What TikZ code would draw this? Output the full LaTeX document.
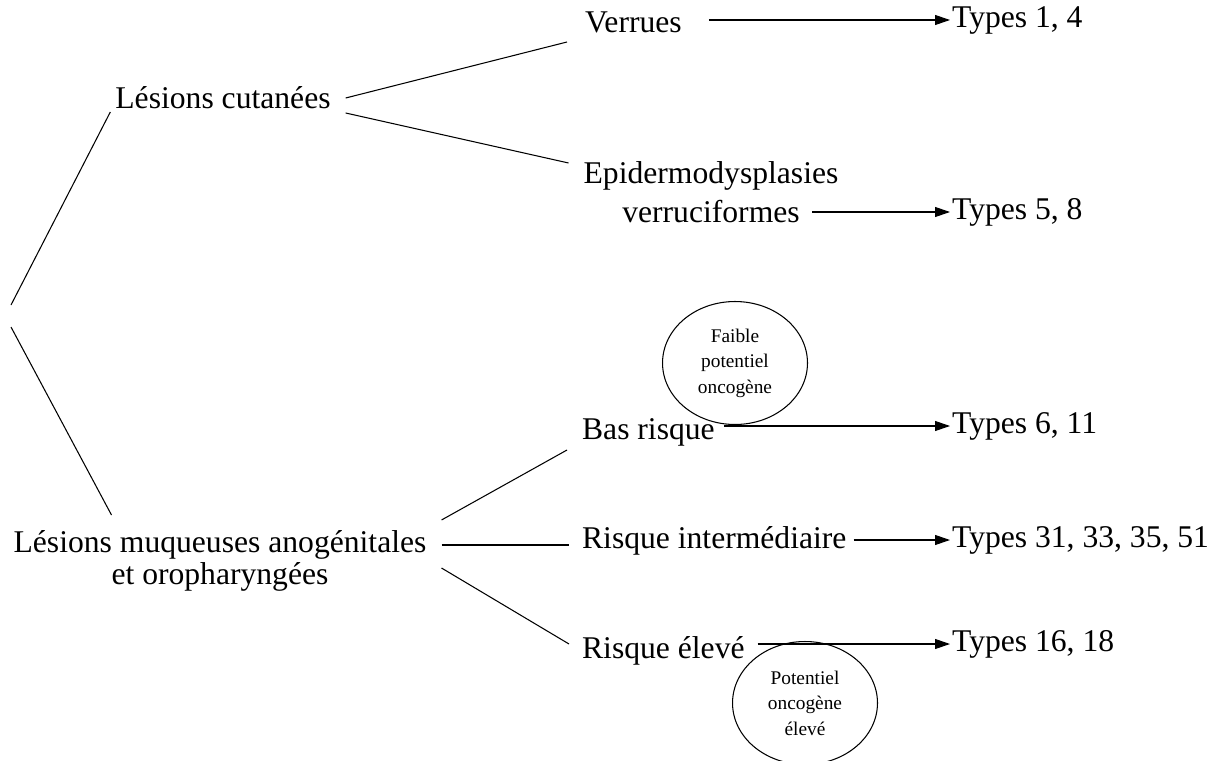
\documentclass[tikz,border=0pt]{standalone}
\usepackage{fontspec}
\setmainfont{Liberation Serif}
\usetikzlibrary{positioning,arrows.meta,calc,shapes.geometric}

\begin{document}
\begin{tikzpicture}[
    x=0.02cm, y=-0.02cm,
    >={Triangle[length=3mm, width=2mm]},
    link/.style={line width=0.6pt},
    arrow/.style={link, ->},
    lesion/.style={font=\fontsize{18}{18}\selectfont, align=center, inner sep=1pt},
    risk/.style={lesion, anchor=west},
    types/.style={lesion, anchor=west},
    potential/.style={ellipse, draw, line width=0.6pt, minimum width=2.9cm, minimum height=2.46cm,
                      inner sep=0pt, align=center, font=\fontsize{11}{14.5}\selectfont}
]
    \useasboundingbox (0,0) rectangle (1226,760);

    \node[lesion] (cut) at (223,98) {Lésions cutanées};
    \node[lesion] (muq) at (220,561) {Lésions muqueuses anogénitales\\et oropharyngées};

    \node[risk] (verr) at (583,22) {Verrues};
    \node[lesion] (epi) at (711,192) {Epidermodysplasies\\[4pt]verruciformes};
    \node[risk] (bas) at (580,432) {Bas risque};
    \node[risk] (inter) at (580,541) {Risque intermédiaire};
    \node[risk] (eleve) at (580,651) {Risque élevé};

    \foreach \n/\y/\lab in {t14/20/{Types 1, 4}, t58/212/{Types 5, 8}, t611/426/{Types 6, 11},
                            t31/540/{Types 31, 33, 35, 51}, t1618/644/{Types 16, 18}}
      \node[types] (\n) at (950,\y) {\lab};

    \node[potential] (faible) at (735,363) {Faible\\potentiel\\oncogène};
    \node[potential] (fort) at (805,703) {Potentiel\\oncogène\\élevé};

    % racine sans texte
    \coordinate (root-up) at (11,305);
    \coordinate (root-down) at (11,327);
    \draw[link] (root-up) -- ($(cut.west)+(-3,14)$);
    \draw[link] (root-down) -- ($(muq.west)+(100,-46)$);

    \draw[link] ($(cut.east)+(13,0)$) -- ($(verr.west)+(-16,20)$);
    \draw[link] ($(cut.east)+(13,15)$) -- ($(epi.west)+(-13,-29)$);

    \draw[link] ($(muq.east)+(13,-41)$) -- ($(bas.west)+(-13,18)$);
    \draw[link] ($(muq.east)+(13,-16)$) -- ($(inter.west)+(-11,4)$);
    \draw[link] ($(muq.east)+(13,7)$) -- ($(eleve.west)+(-11,-7)$);

    \draw[arrow] ($(verr.east |- t14.west)+(25,0)$) -- (t14.west);
    \draw[arrow] ($(epi.east |- t58.west)+(-28,0)$) -- (t58.west);
    \draw[arrow] ($(bas.east |- t611.west)+(7,0)$) -- (t611.west);
    \draw[arrow] ($(inter.east |- t31.west)+(5,0)$) -- (t31.west);
    \draw[arrow] ($(eleve.east |- t1618.west)+(11,0)$) -- (t1618.west);
\end{tikzpicture}
\end{document}
